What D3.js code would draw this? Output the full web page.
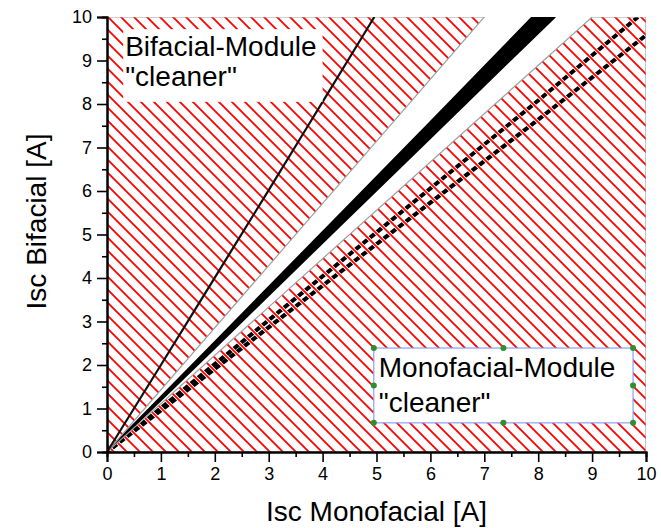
<!DOCTYPE html>
<html>
<head>
<meta charset="utf-8">
<script src="https://cdn.jsdelivr.net/npm/d3@7/dist/d3.min.js"></script>
<style>
  html, body { margin: 0; padding: 0; background: #fff; }
  svg { display: block; }
  text { font-family: "Liberation Sans", Arial, sans-serif; fill: #000; }
</style>
</head>
<body>
<svg id="chart" width="661" height="528"></svg>
<script>
// Axis ticks
const xTicks = [0, 1, 2, 3, 4, 5, 6, 7, 8, 9, 10];
const yTicks = [0, 1, 2, 3, 4, 5, 6, 7, 8, 9, 10];
const xMinor = [0.5, 1.5, 2.5, 3.5, 4.5, 5.5, 6.5, 7.5, 8.5, 9.5];
const yMinor = [0.5, 1.5, 2.5, 3.5, 4.5, 5.5, 6.5, 7.5, 8.5, 9.5];

// Hatched zones (Isc Monofacial, Isc Bifacial)
const zoneBifacial = [[0, 0], [7.0, 10], [0, 10]];
const zoneMonofacial = [[0, 0], [9.0, 10], [10, 10], [10, 0]];

// Dense band of measurements between the two zones
const bandUpper = [[0, 0], [2, 2.52], [4, 5.05], [6, 7.58], [7.9, 10]];
const bandLower = [[0, 0], [2, 2.40], [4, 4.82], [6, 7.23], [8.3, 10]];

// Single curves
const curveBifacial = [[0, 0], [1, 2.0], [2, 4.01], [3, 6.02], [4, 8.05], [4.96, 10]];
const curveMonoA = [[0, 0], [2, 2.02], [5, 5.05], [8, 8.08], [9.85, 10]];
const curveMonoB = [[0, 0], [2, 1.91], [5, 4.78], [8, 7.64], [10, 9.58]];

// Text boxes
const labelBifacial = ["Bifacial-Module", "\"cleaner\""];
const labelMonofacial = ["Monofacial-Module", "\"cleaner\""];

const svg = d3.select("#chart");
const margin = { left: 107, right: 15, top: 17, bottom: 76 };
const W = 661, H = 528;

const x = d3.scaleLinear().domain([0, 10]).range([margin.left, W - margin.right]);
const y = d3.scaleLinear().domain([0, 10]).range([H - margin.bottom, margin.top]);

const defs = svg.append("defs");
const step = 13;
const pat = defs.append("pattern")
  .attr("id", "hatch")
  .attr("patternUnits", "userSpaceOnUse")
  .attr("width", step).attr("height", step);
const hatchD = `M${-step},${-step} L${2*step},${2*step} M${-step},0 L${step},${2*step} M0,${-step} L${2*step},${step}`;
pat.append("path").attr("d", hatchD)
  .attr("stroke", "#fff").attr("stroke-width", 3.6).attr("fill", "none");
pat.append("path").attr("d", hatchD)
  .attr("stroke", "#f00").attr("stroke-width", 1.8).attr("fill", "none");

defs.append("clipPath").attr("id", "plotClip")
  .append("rect")
  .attr("x", x(0)).attr("y", y(10))
  .attr("width", x(10) - x(0)).attr("height", y(0) - y(10));

const line = d3.line().x(d => x(d[0])).y(d => y(d[1]));
const smooth = d3.line().x(d => x(d[0])).y(d => y(d[1])).curve(d3.curveMonotoneX);
const plot = svg.append("g").attr("clip-path", "url(#plotClip)");

// measurement band
const bandPoly = bandUpper.concat(bandLower.slice().reverse());
plot.append("path")
  .attr("d", line(bandPoly) + "Z")
  .attr("fill", "#000").attr("stroke", "#000").attr("stroke-width", 2.5)
  .attr("stroke-linejoin", "round");

// monofacial curves (lie under the hatch)
[curveMonoA, curveMonoB].forEach(c => {
  plot.append("path").attr("d", line(c))
    .attr("fill", "none").attr("stroke", "#000").attr("stroke-width", 4);
});

// hatched zones
[zoneBifacial, zoneMonofacial].forEach(z => {
  plot.append("path").attr("d", line(z) + "Z")
    .attr("fill", "url(#hatch)")
    .attr("stroke", "#a0a0a0").attr("stroke-width", 1.2);
});

// bifacial curve on top of the hatch
plot.append("path").attr("d", smooth(curveBifacial))
  .attr("fill", "none").attr("stroke", "#111").attr("stroke-width", 2.2);

// axes
const tickFont = 18;
const gx = svg.append("g").attr("transform", `translate(0,${y(0)})`)
  .call(d3.axisBottom(x).tickValues(xTicks).tickSize(10).tickPadding(5).tickFormat(d3.format("d")));
const gxm = svg.append("g").attr("transform", `translate(0,${y(0)})`)
  .call(d3.axisBottom(x).tickValues(xMinor).tickSize(5).tickFormat(""));
const gy = svg.append("g").attr("transform", `translate(${x(0)},0)`)
  .call(d3.axisLeft(y).tickValues(yTicks).tickSize(10).tickPadding(5).tickFormat(d3.format("d")));
const gym = svg.append("g").attr("transform", `translate(${x(0)},0)`)
  .call(d3.axisLeft(y).tickValues(yMinor).tickSize(5).tickFormat(""));
[gx, gxm, gy, gym].forEach(g => {
  g.selectAll(".domain").attr("stroke", "#000").attr("stroke-width", 2);
  g.selectAll(".tick line").attr("stroke", "#000").attr("stroke-width", 1.6);
  g.selectAll(".tick text").attr("font-size", tickFont)
    .attr("font-family", "Liberation Sans, Arial, sans-serif").attr("fill", "#000");
});

// axis titles
svg.append("text")
  .attr("x", (x(0) + x(10)) / 2).attr("y", 521)
  .attr("text-anchor", "middle").attr("font-size", 28)
  .text("Isc Monofacial [A]");
svg.append("text")
  .attr("transform", `translate(46,${(y(0) + y(10)) / 2 - 13}) rotate(-90)`)
  .attr("text-anchor", "middle").attr("font-size", 28)
  .text("Isc Bifacial [A]");

// Bifacial label box (white, no border)
const bBox = { x0: 0.3, x1: 4.0, y0: 9.72, y1: 8.05 };
svg.append("rect")
  .attr("x", x(bBox.x0)).attr("y", y(bBox.y0))
  .attr("width", x(bBox.x1) - x(bBox.x0)).attr("height", y(bBox.y1) - y(bBox.y0))
  .attr("fill", "#fff");
labelBifacial.forEach((t, i) => {
  svg.append("text").attr("x", x(bBox.x0) + 2).attr("y", y(bBox.y0) + 27 + i * 30)
    .attr("font-size", 28).text(t);
});

// Monofacial label box (selected frame with handles)
const mBox = { x0: 4.95, x1: 9.76, y0: 2.39, y1: 0.67 };
const mx0 = x(mBox.x0), mx1 = x(mBox.x1), my0 = y(mBox.y0), my1 = y(mBox.y1);
svg.append("rect")
  .attr("x", mx0).attr("y", my0).attr("width", mx1 - mx0).attr("height", my1 - my0)
  .attr("fill", "#fff").attr("stroke", "#8aa0f0").attr("stroke-width", 1.2);
labelMonofacial.forEach((t, i) => {
  svg.append("text").attr("x", mx0 + 5).attr("y", my0 + 29 + i * 35)
    .attr("font-size", 28).text(t);
});
const hx = [mx0, (mx0 + mx1) / 2, mx1], hy = [my0, (my0 + my1) / 2, my1];
hx.forEach((px, i) => hy.forEach((py, j) => {
  if (i === 1 && j === 1) return;
  svg.append("circle").attr("cx", px).attr("cy", py).attr("r", 3)
    .attr("fill", "#2f8f2f");
}));
</script>
</body>
</html>
